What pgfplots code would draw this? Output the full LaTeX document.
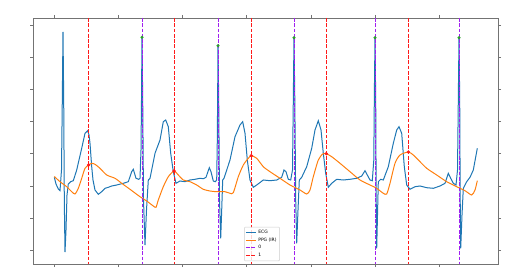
\documentclass[border=0pt]{standalone}
\usepackage{pgfplots}
\pgfplotsset{compat=1.18}
\usepackage{fontspec}
\setmainfont{DejaVu Sans}
\definecolor{ecgblue}{HTML}{1F77B4}
\definecolor{ppgorange}{HTML}{FF7F0E}
\definecolor{vpurple}{HTML}{A020F0}
\definecolor{vred}{HTML}{FF1A1A}
\definecolor{mgreen}{HTML}{2CA02C}
\tikzset{mpldash/.style={dash pattern=on 3.7pt off 1.6pt}}
\begin{document}
\begin{tikzpicture}[x=1pt,y=1pt]
\path[use as bounding box] (0,0) rectangle (521,278);
\begin{axis}[
  at={(33pt,14pt)}, anchor=south west,
  scale only axis, width=465pt, height=246pt,
  xmin=33, xmax=498, ymin=18, ymax=264, y dir=reverse,
  axis line style={black!55, line width=0.6pt},
  tick align=outside, tick style={black!55, line width=0.5pt},
  major tick length=3pt,
  xtick={54,118,182,246,311,375,439},
  ytick={25,57,89,121,153,186,218,250},
  xticklabel style={opacity=0}, yticklabel style={opacity=0},
  clip=true,
  legend style={at={(0.454,0.012)}, anchor=south west,
    font=\fontsize{4.5}{5.2}\selectfont, draw=black!20, rounded corners=1pt,
    fill=white, fill opacity=0.8, text opacity=1,
    inner sep=1pt, row sep=-1.2pt},
  legend cell align=left,
  legend image code/.code={\draw[mark repeat=2,mark phase=2,#1] (0pt,0pt) -- (10pt,0pt);},
]
% ECG
\addplot[color=ecgblue, line width=1pt] coordinates {
(54.3,177.3) (56,184) (58.3,189) (60,190.7) (61.5,170) (62.3,100) (63,32) (63.7,100) (64.3,200) (65,252) (66,230) (67,195) (68.3,184) (70.7,181.7) (73.3,180.7) (76.7,170) (79,160) (81.7,148.3) (85,133.3) (87.7,130.7) (89,135) (90,143.3) (91.7,166.7) (93,180) (95,190) (98.3,194.3) (101.7,191.7) (105,188.3) (108.3,187.3) (111.7,186) (116.7,185) (123.3,183.3) (128.3,181.7) (131.7,171.7) (133.3,169.3) (136,178.3) (138.7,179.3) (140,178.3) (141,150) (141.5,100) (142,37.3) (142.7,100) (143.5,200) (145,245) (146.5,210) (148.3,180) (150,178.3)
(155,153.3) (160,140) (163.3,121.7) (165.7,120) (168.3,126.7) (170.7,153.3) (173.3,171.7) (176,183.3) (180,181) (185,181.7) (190,180) (195,179.3) (200,178.3) (203.3,178.7) (206,177.3) (209.3,167.7) (211,171.7) (213.3,181) (215.3,181.7) (216.7,180) (217.3,140) (217.7,90) (218,45.7) (218.7,100) (219.5,200) (220.7,238.3) (221.7,210) (222.7,180) (224,178.3) (230,160) (235,136.7) (240,125) (242.7,121.7) (245,133.3) (247.3,160) (250,180) (253.3,187.3) (256.7,185) (263.3,180) (270,180.7)
(276.7,180) (281.7,177.3) (284,170) (286,171.7) (288.3,179.3) (290.7,180) (292.5,170) (293.3,100) (294,37.7) (294.8,100) (295.7,200) (296.7,243.3) (298,210) (299.3,180) (301.7,177.3) (306.7,166.7) (311.7,148.3) (315,130) (318.3,120.7) (321,130) (323.3,153.3) (325.7,173.3) (328.3,187.3) (331.7,183.3) (336.7,179.3) (343.3,180) (350,179.3) (356.7,178.3) (361.7,176) (365,170.7) (367.3,175) (370,180) (372.3,180.7) (373.8,160) (374.3,100) (375,37.7) (375.7,100) (376.2,200) (376.7,248.3) (377.5,215) (378.3,181.7) (380.7,179.3) (383.3,180)
(388.3,166.7) (393.3,143.3) (396.7,130) (399,126.7) (401.7,133.3) (404.3,166.7) (406.7,185) (410,189.3) (415,186.7) (420,186) (426.7,187.7) (433.3,188.3) (440,186) (445,183.3) (448.3,173.3) (450.7,178.3) (453.3,183.3) (456,185) (457.5,170) (458.3,100) (459,37.7) (459.7,100) (460.2,200) (460.7,248.3) (462,215) (463.3,188.3) (466.7,181.7) (470,177.3) (473.3,170) (477.3,148.3)
};
\addlegendentry{ECG}
% PPG
\addplot[color=ppgorange, line width=1pt, smooth, tension=0.4] coordinates {
(54.3,176.5) (60,181.7) (66.7,186.7) (71.7,191.7) (75,194) (78.3,188.3) (81.7,178.3) (85,168.3) (88.7,165) (91.7,163.3) (95,164.3) (100,168.3) (106.7,175) (115,178.3) (121.7,183.3) (130,189.3) (140,196.7) (146.7,201) (153.3,206) (156,207.3) (158.3,200) (163.3,186.7) (168.3,176.7) (174,171) (178.3,175) (183.3,180) (190,181.7) (196.7,185) (203.3,189.3) (210,191) (216.7,191.7) (225,191.7) (230,193.3) (233.3,192.7) (238.3,176.7) (243.3,165) (248.3,158.3) (251.3,155.7) (256.7,158.3) (263.3,166.7) (270,171.7) (280,178.3) (290,185) (300,190) (306.7,194) (310,190) (313.3,176.7) (318.3,160) (322.7,154) (326.3,153.7) (331.7,156.7) (340,163.3) (350,171.7) (360,180) (370,185) (376.7,188.3) (383.3,193.3) (386.7,194) (390,183.3) (395,163.3) (400,155) (408.3,152) (413.3,155) (420,161.7) (426.7,168.3) (436.7,175) (446.7,181.7) (456.7,186.7) (465,190.7) (471.7,195) (475,190) (477.3,180.7)
};
\addlegendentry{PPG (IR)}
% class 0 lines
\addplot[color=vpurple, mpldash, line width=0.9pt] coordinates {(142,18) (142,264)};
\addlegendentry{0}
\addplot[color=vpurple, mpldash, line width=0.9pt, forget plot] coordinates {(218,18) (218,264)};
\addplot[color=vpurple, mpldash, line width=0.9pt, forget plot] coordinates {(294,18) (294,264)};
\addplot[color=vpurple, mpldash, line width=0.9pt, forget plot] coordinates {(375,18) (375,264)};
\addplot[color=vpurple, mpldash, line width=0.9pt, forget plot] coordinates {(459,18) (459,264)};
% class 1 lines
\addplot[color=vred, mpldash, line width=0.9pt] coordinates {(88.7,18) (88.7,264)};
\addlegendentry{1}
\addplot[color=vred, mpldash, line width=0.9pt, forget plot] coordinates {(174,18) (174,264)};
\addplot[color=vred, mpldash, line width=0.9pt, forget plot] coordinates {(251.3,18) (251.3,264)};
\addplot[color=vred, mpldash, line width=0.9pt, forget plot] coordinates {(326.3,18) (326.3,264)};
\addplot[color=vred, mpldash, line width=0.9pt, forget plot] coordinates {(408.3,18) (408.3,264)};
% markers
\addplot[only marks, mark=*, mark size=1.3pt, color=mgreen, forget plot] coordinates {(142,37.3) (218,45.7) (294,37.7) (375,37.7) (459,37.7)};
\addplot[only marks, mark=*, mark size=1.5pt, color=vred, forget plot] coordinates {(88.7,165) (174,171) (251.3,155.7) (326.3,153.7) (408.3,152)};
\end{axis}
\end{tikzpicture}
\end{document}
